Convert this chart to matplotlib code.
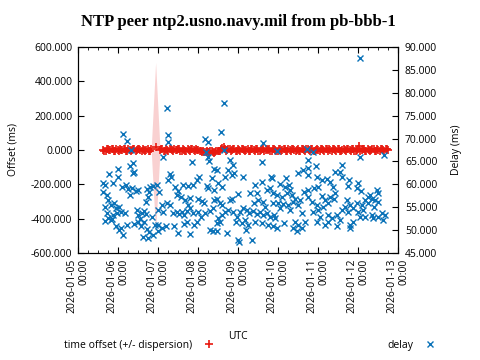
import matplotlib.pyplot as plt
import matplotlib.dates as mdates
from matplotlib.ticker import MultipleLocator, FormatStrFormatter
import numpy as np
from datetime import datetime

plt.rcParams['font.family'] = ['Open Sans', 'DejaVu Sans']
plt.rcParams['font.size'] = 7.5

# time axis: days after 2026-01-05 00:00 UTC
start = mdates.date2num(datetime(2026, 1, 5))

# offset samples (ms) and dispersion (ms), first batch
offset_day = [
    0.63, 0.69, 0.75, 0.81, 0.87, 0.93, 0.99, 1.05, 1.11, 1.17,
    1.23, 1.29, 1.35, 1.41, 1.47, 1.53, 1.59, 1.65, 1.71, 1.77,
    1.83, 1.94, 2.05, 2.11, 2.17, 2.23, 2.29, 2.35, 2.41, 2.47,
    2.53, 2.59, 2.65, 2.71, 2.77, 2.83, 2.89, 2.95, 3.01, 3.07,
    3.13, 3.19, 3.25, 3.31, 3.37, 3.43, 3.49, 3.55, 3.61, 3.67,
    3.73, 3.79, 3.85, 3.91, 3.97, 4.03, 4.09, 4.15, 4.21, 4.27,
    4.33, 4.39, 4.45, 4.51, 4.57, 4.63, 4.69, 4.75, 4.81, 4.87,
    4.93, 4.99, 5.05, 5.11, 5.17, 5.23, 5.29, 5.35, 5.41, 5.47,
    5.53, 5.59, 5.65, 5.71, 5.77, 5.83, 5.89, 5.95, 6.01, 6.07,
    6.13, 6.19, 6.25, 6.31, 6.37, 6.43, 6.49, 6.55, 6.61, 6.67,
    6.73, 6.79, 6.85, 6.91, 6.97, 7.03, 7.09, 7.15, 7.21, 7.27,
    7.33, 7.39, 7.45, 7.51, 7.57, 7.63, 7.69, 7.74,
]
offset_ms = [
    2, -3, 4, -1, 3, -4, 1, 5, -2, 3,
    -3, 2, -1, 4, -2, 3, -4, 1, 2, -3,
    3, 15, -2, 4, -3, 1, 5, -2, 3, -1,
    4, -3, 2, -4, 1, 3, -2, 5, -1, -3,
    -6, -9, -11, -8, -12, -9, -7, -5, 12, 4,
    -2, 3, -1, 4, -3, 2, 5, -2, 1, -4,
    3, -1, 4, -3, 2, 6, -2, 1, -4, 3,
    2, -3, 4, -1, 3, -4, 2, 5, -2, 1,
    -3, 4, -1, 3, -2, 5, -4, 2, -1, 3,
    -2, 4, -3, 1, 5, -2, 3, -4, 2, -1,
    4, -2, 3, -3, 1, 25, -1, 4, -3, 2,
    -2, 3, -4, 1, 4, -1, 3, -2,
]
dispersion_ms = [
    3, 2, 3, 4, 3, 2, 3, 3, 4, 3,
    2, 3, 3, 2, 4, 3, 3, 2, 3, 4,
    4, 495, 4, 3, 2, 3, 3, 4, 2, 3,
    3, 2, 3, 3, 4, 3, 2, 3, 3, 4,
    4, 3, 5, 4, 3, 4, 3, 3, 4, 3,
    3, 2, 3, 4, 3, 2, 3, 3, 4, 3,
    2, 3, 3, 2, 4, 3, 3, 2, 3, 4,
    3, 3, 2, 3, 4, 3, 3, 2, 3, 3,
    4, 3, 2, 3, 3, 4, 3, 2, 3, 3,
    3, 4, 3, 2, 3, 3, 4, 3, 2, 3,
    3, 2, 4, 3, 3, 5, 3, 2, 3, 4,
    3, 3, 2, 3, 4, 3, 3, 2,
]

# offset samples, second batch (between the first ones)
offset_day_b = [
    0.66, 0.72, 0.78, 0.84, 0.90, 0.96, 1.02, 1.08, 1.14, 1.20,
    1.26, 1.32, 1.38, 1.44, 1.50, 1.56, 1.62, 1.68, 1.74, 1.80,
    2.08, 2.14, 2.20, 2.26, 2.32, 2.38, 2.44, 2.50, 2.56, 2.62,
    2.68, 2.74, 2.80, 2.86, 2.92, 2.98, 3.04, 3.10, 3.16, 3.22,
    3.28, 3.34, 3.40, 3.46, 3.52, 3.58, 3.64, 3.70, 3.76, 3.82,
    3.88, 3.94, 4.00, 4.06, 4.12, 4.18, 4.24, 4.30, 4.36, 4.42,
    4.48, 4.54, 4.60, 4.66, 4.72, 4.78, 4.84, 4.90, 4.96, 5.02,
    5.08, 5.14, 5.20, 5.26, 5.32, 5.38, 5.44, 5.50, 5.56, 5.62,
    5.68, 5.74, 5.80, 5.86, 5.92, 5.98, 6.04, 6.10, 6.16, 6.22,
    6.28, 6.34, 6.40, 6.46, 6.52, 6.58, 6.64, 6.70, 6.76, 6.82,
    6.88, 6.94, 7.00, 7.06, 7.12, 7.18, 7.24, 7.30, 7.36, 7.42,
    7.48, 7.54, 7.60, 7.66, 7.72,
]
offset_ms_b = [
    -5, 6, -2, 7, -6, 3, -7, 2, 6, -4,
    5, -6, 3, -7, 6, -2, 7, -5, 4, -6,
    6, -5, 7, -3, 5, -7, 2, 6, -5, 4,
    -6, 5, -3, 7, -5, 2, -6, -10, -14, -7,
    -13, -6, -15, -8, -4, 8, 15, -3, 6, -5,
    5, -6, 7, -4, 3, -7, 6, -3, 5, -6,
    7, -4, 5, -6, 3, 6, -5, 4, -7, 5,
    -4, 6, -5, 7, -3, 5, -6, 4, -5, 7,
    -6, 4, -5, 6, -3, 7, -4, 5, -6, 3,
    6, -5, 4, -7, 5, -3, 6, -5, 7, -4,
    5, -6, 3, -5, 6, -4, 5, -7, 4, -5,
    6, -3, 5, -6, 4,
]
dispersion_ms_b = [
    3, 3, 2, 3, 4, 3, 3, 2, 3, 3,
    4, 3, 2, 3, 3, 4, 3, 2, 3, 4,
    3, 3, 2, 3, 4, 3, 3, 2, 3, 3,
    2, 3, 4, 3, 3, 2, 3, 4, 4, 3,
    4, 5, 3, 4, 3, 3, 4, 3, 2, 3,
    3, 2, 3, 4, 3, 3, 2, 3, 4, 3,
    2, 3, 3, 4, 3, 2, 3, 3, 4, 3,
    3, 4, 3, 2, 3, 3, 4, 3, 2, 3,
    4, 3, 3, 2, 3, 4, 3, 3, 2, 3,
    3, 2, 4, 3, 3, 2, 3, 4, 3, 3,
    3, 4, 3, 2, 3, 3, 4, 3, 2, 3,
    3, 2, 3, 4, 3,
]

# delay samples (ms)
delay_day = [
    1.13, 1.22, 1.325, 2.23, 2.24, 2.26, 3.175, 3.24, 3.575, 3.65,
    3.66, 4.63, 4.97, 5.72, 5.88, 7.05,
    1.30, 1.38, 1.41, 1.37, 0.78, 1.01, 0.99, 0.88, 0.68, 0.72,
    0.63, 0.76, 0.83, 0.68, 0.72, 0.76, 0.68, 0.83, 0.91, 0.94,
    1.03, 0.97, 1.08, 1.18, 0.88, 0.84, 1.09, 1.19, 1.26, 1.30,
    1.36, 1.44, 1.51, 0.94, 1.03, 1.13, 1.22, 1.08, 1.47, 1.51,
    1.55, 1.61, 1.66, 1.69, 1.49, 1.41, 1.58, 1.65, 1.72, 1.63,
    1.74, 1.78, 1.69, 1.74, 1.78, 1.80, 1.88, 1.72, 1.86, 1.93,
    1.88, 0.63,
    2.13, 2.84, 3.19, 3.24, 3.28, 3.41, 2.30, 2.33, 2.26, 1.97,
    2.03, 2.43, 2.49, 2.63, 2.74, 2.88, 2.97, 3.03, 3.22, 3.26,
    3.36, 3.41, 2.47, 2.58, 2.68, 2.80, 2.74, 3.01, 3.09, 3.16,
    3.41, 2.09, 2.22, 2.30, 2.01, 2.13, 2.38, 2.47, 2.53, 2.59,
    2.66, 2.72, 2.80, 2.88, 2.99, 3.08, 2.97, 2.91, 2.72, 2.66,
    3.18, 3.30, 3.38, 1.99, 2.09, 2.19, 2.01, 2.41, 2.51, 2.80,
    3.30, 3.38,
    4.61, 3.80, 3.88, 3.76, 3.68, 3.86, 3.91, 4.13, 3.47, 3.49,
    3.59, 4.43, 4.59, 4.83, 4.86, 4.80, 4.72, 4.88, 4.30, 4.47,
    4.01, 3.84, 3.80, 3.47, 3.55, 3.59, 4.51, 4.41, 4.63, 4.68,
    4.88, 3.76, 3.68, 3.59, 3.51, 3.47, 3.55, 3.88, 3.97, 4.05,
    4.13, 4.22, 4.28, 4.38, 4.47, 4.55, 4.63, 4.72, 4.80, 4.91,
    3.94, 4.09, 4.18, 4.26, 4.19, 4.43, 4.59, 4.76, 4.88, 3.72,
    3.99, 4.03, 4.36, 3.47,
    5.76, 5.76, 5.94, 5.63, 5.51, 5.76, 5.97, 5.19, 5.05, 5.18,
    5.28, 5.30, 6.09, 6.22, 6.30, 6.43, 6.01, 5.91, 5.76, 5.66,
    6.38, 4.97, 5.09, 5.22, 5.34, 5.43, 5.55, 5.01, 5.13, 5.26,
    5.38, 5.49, 5.05, 5.30, 5.76, 5.84, 5.97, 6.09, 6.18, 6.30,
    6.41, 5.88, 6.01, 6.13, 6.26, 5.59, 6.05, 6.26, 6.34, 6.26,
    6.18, 5.97, 5.68, 5.43, 5.51, 5.38, 5.47, 5.59, 5.16, 4.97,
    4.93,
    7.05, 7.66, 6.59, 6.55, 6.59, 6.78, 6.74, 7.01, 6.97, 7.08,
    7.47, 7.51, 7.30, 6.43, 6.72, 6.80, 6.68, 6.88, 6.97, 7.09,
    7.18, 7.26, 7.34, 7.43, 7.51, 7.26, 7.41, 7.13, 7.01, 6.76,
    6.59, 6.47, 6.55, 6.47, 6.80, 6.88, 7.05, 7.18, 7.34, 7.59,
    7.68, 7.63, 7.51, 7.38, 6.80,
]
delay_ms = [
    71.0, 69.5, 67.4, 76.7, 70.8, 69.3, 69.9, 69.3, 71.5, 77.8,
    67.5, 69.0, 67.3, 67.7, 67.1, 87.6,
    63.9, 64.6, 62.8, 62.4, 62.2, 63.3, 61.7, 60.4, 59.9, 57.7,
    58.4, 56.6, 55.5, 55.1, 53.7, 52.6, 51.9, 52.2, 55.9, 54.8,
    55.1, 53.7, 54.0, 53.7, 53.4, 52.4, 59.5, 59.9, 59.0, 57.7,
    59.1, 58.5, 58.8, 50.8, 50.0, 48.9, 51.1, 50.4, 54.4, 53.3,
    52.4, 53.7, 54.2, 53.5, 51.7, 51.4, 51.0, 51.7, 50.2, 48.6,
    48.2, 49.5, 56.1, 57.3, 58.4, 59.5, 59.7, 59.0, 52.9, 51.1,
    48.9, 60.3,
    66.0, 64.8, 67.0, 66.0, 65.1, 63.4, 62.2, 61.5, 61.0, 59.9,
    58.4, 59.5, 58.5, 59.9, 59.7, 59.9, 61.0, 61.5, 59.7, 59.1,
    61.3, 58.8, 57.7, 57.3, 56.6, 57.1, 55.5, 56.8, 56.4, 55.9,
    56.6, 55.5, 55.9, 55.5, 54.4, 53.9, 53.7, 54.0, 53.5, 53.9,
    53.2, 54.2, 54.8, 53.7, 54.0, 52.9, 51.8, 51.1, 51.8, 51.3,
    53.7, 54.2, 54.8, 51.1, 50.4, 50.8, 49.7, 50.8, 49.3, 49.1,
    50.0, 49.8,
    64.9, 65.3, 64.2, 63.1, 61.7, 62.0, 62.4, 61.7, 63.1, 60.2,
    59.5, 59.9, 60.6, 61.7, 61.3, 59.1, 58.8, 58.0, 58.0, 58.0,
    57.8, 56.9, 56.6, 56.9, 55.9, 55.5, 56.6, 55.9, 56.2, 55.1,
    55.9, 54.4, 53.9, 53.3, 52.6, 51.5, 51.8, 54.0, 52.9, 53.9,
    54.8, 54.4, 53.7, 54.2, 53.5, 54.0, 53.3, 53.7, 52.9, 53.3,
    51.8, 51.5, 52.2, 51.1, 50.0, 51.8, 51.5, 51.1, 50.8, 49.3,
    47.8, 47.5, 47.8, 49.7,
    65.3, 63.6, 64.1, 63.1, 62.4, 62.0, 61.7, 61.3, 60.0, 59.5,
    59.9, 58.8, 61.0, 61.2, 60.6, 62.8, 59.5, 59.1, 58.8, 58.4,
    59.5, 57.7, 57.3, 58.0, 57.7, 56.9, 56.6, 55.9, 55.6, 55.5,
    56.1, 55.5, 54.8, 54.4, 57.3, 56.2, 55.5, 57.5, 56.6, 57.3,
    56.9, 53.9, 54.4, 55.1, 55.9, 53.7, 52.9, 53.3, 52.6, 51.8,
    51.1, 51.8, 51.8, 51.8, 51.1, 50.4, 49.8, 50.4, 51.5, 50.4,
    52.6,
    66.0, 66.3, 64.2, 62.8, 61.7, 61.0, 59.7, 60.2, 59.1, 58.5,
    58.8, 58.0, 57.7, 58.0, 56.6, 55.5, 55.1, 54.8, 55.9, 55.5,
    56.6, 57.3, 56.9, 56.6, 56.2, 55.9, 55.1, 54.4, 54.0, 54.0,
    54.4, 53.3, 52.2, 50.8, 51.1, 51.8, 52.9, 52.9, 53.3, 53.7,
    53.3, 52.2, 52.9, 52.7, 50.4,
]

# merge the two offset batches in time order
t_all = np.array(offset_day + offset_day_b)
order = np.argsort(t_all)
x_off = start + t_all[order]
off = np.array(offset_ms + offset_ms_b, dtype=float)[order]
disp = np.array(dispersion_ms + dispersion_ms_b, dtype=float)[order]
x_del = start + np.array(delay_day)

fig = plt.figure(figsize=(4.8, 3.6), dpi=100)
ax1 = fig.add_axes([78/480, 107/360, 320/480, 206/360])

ax1.fill_between(x_off, off - disp, off + disp, color='#e41a1c', alpha=0.2, lw=0)
ax1.plot(x_off, off, '+', color='#e8190f', ms=5.5, mew=1.2,
         label='time offset (+/- dispersion)')
ax1.set_xlim(start, start + 8)
ax1.set_ylim(-600, 600)
ax1.yaxis.set_major_locator(MultipleLocator(200))
ax1.yaxis.set_major_formatter(FormatStrFormatter('%.3f'))
ax1.set_ylabel('Offset (ms)', labelpad=9)

ax1.xaxis.set_major_locator(mdates.DayLocator())
ax1.xaxis.set_minor_locator(mdates.HourLocator(byhour=[6, 12, 18]))
ax1.xaxis.set_major_formatter(mdates.DateFormatter('%Y-%m-%d\n%H:%M'))
ax1.tick_params(axis='x', which='both', direction='in', top=True,
                labelrotation=90, pad=4)
ax1.tick_params(axis='x', which='major', length=4.5)
ax1.tick_params(axis='x', which='minor', length=2.5)
ax1.tick_params(axis='y', direction='in', length=4.5, right=False, pad=4)
plt.setp(ax1.get_xticklabels(), multialignment='right')
ax1.set_xlabel('UTC', labelpad=13)

ax2 = ax1.twinx()
ax2.plot(x_del, delay_ms, 'x', color='#0a72b8', ms=5, mew=1, label='delay')
ax2.set_ylim(45, 90)
ax2.yaxis.set_major_locator(MultipleLocator(5))
ax2.yaxis.set_major_formatter(FormatStrFormatter('%.3f'))
ax2.tick_params(axis='y', direction='in', length=4.5, pad=5)
ax2.set_ylabel('Delay (ms)', labelpad=10)

fig.text(238/480, 1 - 22/360, 'NTP peer ntp2.usno.navy.mil from pb-bbb-1',
         ha='center', va='center', family='Liberation Serif',
         fontweight='bold', fontsize=12)

handles = ax1.get_lines() + ax2.get_lines()
fig.legend(handles, [h.get_label() for h in handles], loc='center',
           bbox_to_anchor=(60/480, 0.015, 380/480, 0.05), mode='expand',
           ncol=2, markerfirst=False, frameon=False, handlelength=1.2,
           handletextpad=1.0, borderaxespad=0)

fig.savefig('out.png', dpi=100)
